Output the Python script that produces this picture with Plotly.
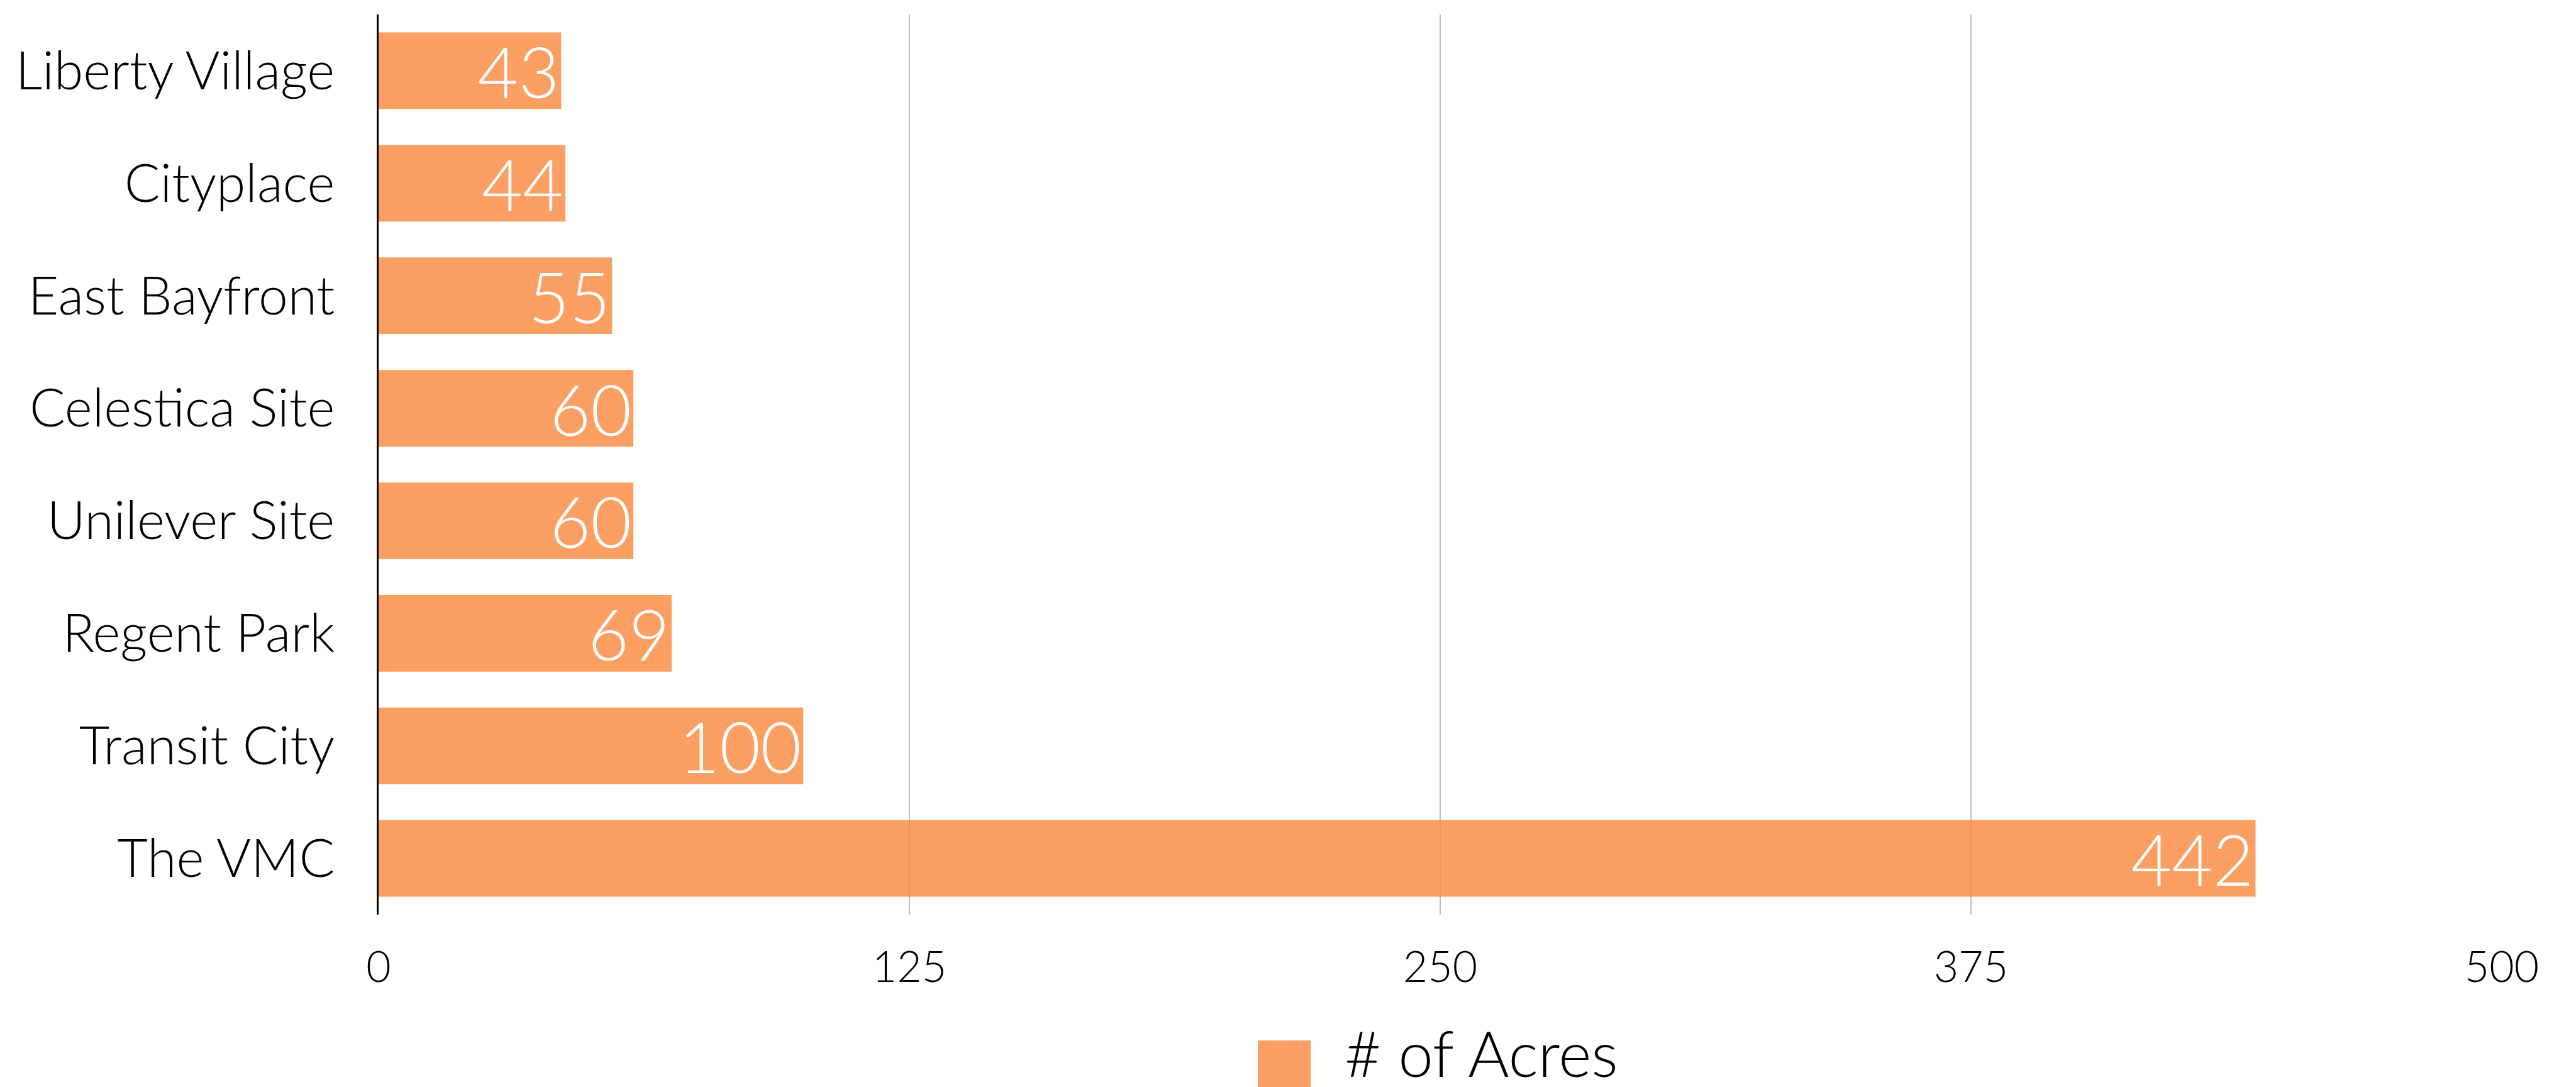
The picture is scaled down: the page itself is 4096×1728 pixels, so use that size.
import plotly.graph_objects as go

categories = ["Liberty Village", "Cityplace", "East Bayfront", "Celestica Site",
              "Unilever Site", "Regent Park", "Transit City", "The VMC"]
acres = [43, 44, 55, 60, 60, 69, 100, 442]
series_name = "# of Acres"
x_ticks = [0, 125, 250, 375, 500]

BAR = "rgba(251,142,70,0.85)"
FONT = "Lato"

W, H = 4096, 1728
L, R, T, B = 594, 126, 15, 282
PW, PH = W - L - R, H - T - B


def px(x):
    return (x - L) / PW


def py(y):
    return (H - B - y) / PH


fig = go.Figure()
fig.add_trace(go.Bar(
    y=categories, x=acres, orientation="h", name=series_name,
    marker=dict(color=BAR, line=dict(width=0)),
    text=[str(v) for v in acres], textposition="inside", insidetextanchor="end",
    textangle=0, constraintext="none",
    textfont=dict(family=FONT, size=112, color="white", weight=300),
    showlegend=False, hoverinfo="skip",
))

fig.update_layout(
    width=W, height=H,
    margin=dict(l=L, r=R, t=T, b=B, pad=0),
    plot_bgcolor="white", paper_bgcolor="white",
    bargap=0.32,
    font=dict(family=FONT, color="black"),
    xaxis=dict(range=[0, 500], tickvals=x_ticks, ticktext=[str(t) for t in x_ticks],
               showgrid=True, gridcolor="#bdbdbd", gridwidth=2, zeroline=False,
               showline=False, ticks="", ticklabelstandoff=38,
               tickfont=dict(family=FONT, size=68, color="black", weight=300)),
    yaxis=dict(categoryorder="array", categoryarray=categories, autorange="reversed",
               showgrid=False, zeroline=False, showline=True, linecolor="black",
               linewidth=3, layer="above traces", ticks="", ticklabelstandoff=50,
               tickfont=dict(family=FONT, size=84, color="black", weight=300)),
)

# legend drawn in paper space
fig.add_shape(type="rect", xref="paper", yref="paper",
              x0=px(1992), x1=px(2076), y0=py(1732), y1=py(1646),
              fillcolor=BAR, line=dict(width=0))
fig.add_annotation(text=series_name, xref="paper", yref="paper",
                   x=px(2128), y=py(1727),
                   xanchor="left", yanchor="bottom", showarrow=False,
                   font=dict(family=FONT, size=100, color="black", weight=300))

fig.write_html("out.html")
